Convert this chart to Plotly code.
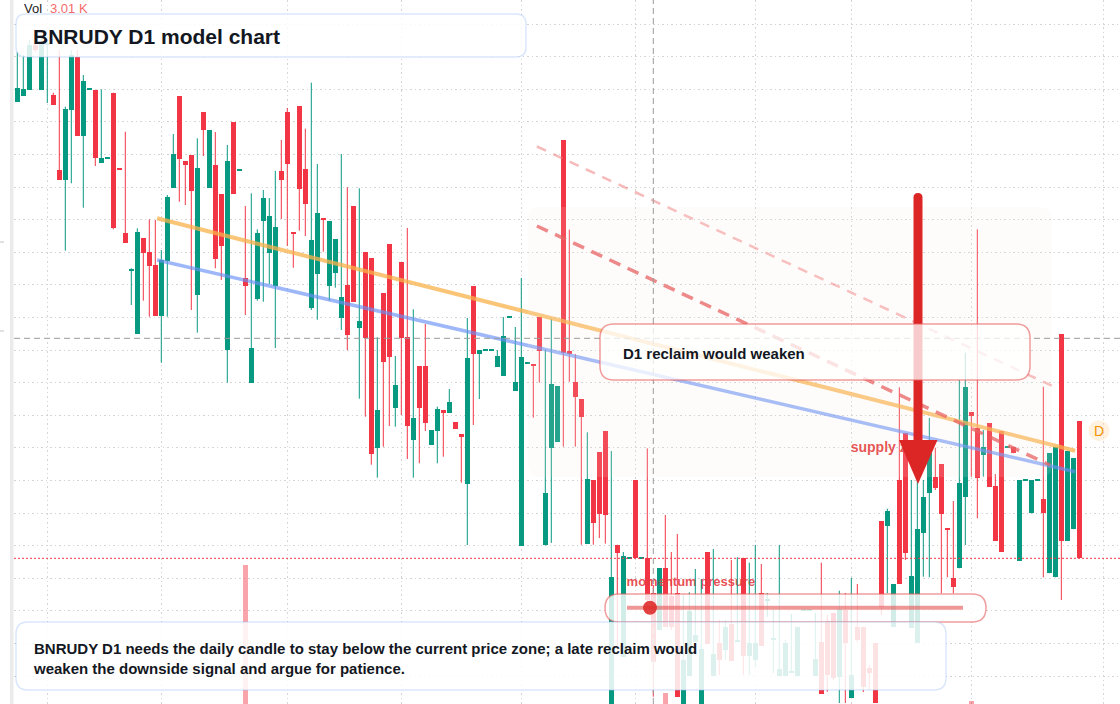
import plotly.graph_objects as go

W, H = 1120, 704

# ---------------- data (daily candles, price units) ----------------
opens = [109.83, 110.43, 111.0, 115.5, 111.0, 115.5, 110.5, 103.0, 102.0, 109.0,
         114.3, 106.4, 111.05, 111.0, 103.73, 104.15, 110.73, 103.12, 96.73, 92.95,
         86.6, 96.2, 94.8, 93.5, 88.4, 93.93, 101.23, 110.4, 103.9, 104.5,
         90.5, 108.8, 101.23, 103.5, 100.6, 85.0, 107.8, 102.98, 92.17, 81.73,
         90.13, 97.93, 94.73, 91.4, 102.93, 108.8, 96.7, 109.4, 103.1, 89.23,
         92.63, 98.07, 91.43, 92.73, 88.23, 91.5, 99.4, 87.23, 94.8, 94.2,
         75.23, 90.7, 95.6, 79.23, 93.8, 86.33, 76.0, 83.4, 83.4, 75.53,
         76.93, 79.0, 78.73, 77.8, 76.6, 71.63, 91.4, 84.6, 84.98, 84.98,
         83.3, 82.4, 88.28, 80.93, 65.4, 83.65, 83.57, 88.3, 65.46, 75.23,
         75.81, 105.98, 84.86, 81.82, 80.06, 65.64, 71.97, 74.79, 76.91, 49.0,
         65.53, 54.3, 64.18, 72.0, 64.15, 64.17, 60.7, 57.0, 63.17, 60.4,
         60.7, 49.0, 52.4, 55.83, 49.0, 64.8, 52.4, 55.73, 55.0, 57.6,
         55.8, 64.2, 54.4, 54.0, 60.7, 59.95, 56.0, 52.4, 52.4, 52.7,
         52.4, 58.98, 58.98, 52.4, 55.83, 57.93, 58.7, 52.3, 59.0, 50.2,
         57.33, 57.33, 53.2, 55.7, 67.87, 67.43, 57.33, 72.0, 76.73, 57.2,
         55.7, 66.73, 70.67, 72.33, 73.6, 67.07, 62.17, 63.17, 70.33, 78.77,
         77.17, 74.5, 77.67, 71.4, 76.9, 75.25, 75.33, 63.93, 71.98, 68.67,
         71.98, 70.07, 62.67, 62.27, 86.57, 65.93, 67.07, 77.9]
highs = [114.8, 114.5, 116.0, 115.8, 116.5, 116.0, 110.73, 115.0, 109.33, 115.0,
         115.0, 112.5, 111.1, 111.0, 111.07, 104.2, 110.73, 103.12, 106.83, 93.17,
         97.17, 96.2, 98.07, 98.0, 95.0, 100.5, 106.6, 110.4, 103.9, 104.5,
         106.17, 108.8, 107.0, 106.8, 100.6, 105.5, 107.8, 103.02, 99.4, 100.67,
         97.07, 101.0, 100.2, 102.93, 106.0, 109.2, 96.7, 109.4, 107.13, 111.73,
         103.6, 98.07, 97.9, 96.1, 104.6, 101.27, 99.4, 101.17, 94.8, 94.2,
         86.27, 90.7, 95.6, 84.4, 93.8, 97.2, 89.07, 83.4, 87.6, 77.0,
         79.33, 79.0, 81.1, 77.8, 76.6, 88.2, 91.4, 85.0, 85.02, 85.02,
         85.0, 88.3, 88.32, 87.3, 92.2, 83.69, 83.6, 88.3, 85.04, 88.15,
         81.41, 105.98, 97.04, 84.6, 80.06, 76.77, 71.97, 74.79, 76.91, 74.9,
         65.53, 64.8, 64.22, 72.0, 64.19, 75.16, 61.5, 63.2, 68.5, 64.8,
         66.6, 60.5, 60.77, 63.1, 62.07, 64.8, 65.1, 58.0, 58.0, 64.0,
         64.27, 64.2, 63.73, 65.5, 63.6, 60.7, 59.0, 65.5, 56.0, 58.6,
         57.33, 59.02, 59.02, 58.7, 63.73, 58.5, 58.7, 60.93, 60.7, 62.2,
         61.6, 57.33, 53.5, 55.7, 67.87, 69.13, 61.6, 81.27, 76.73, 72.0,
         72.0, 72.0, 78.2, 75.23, 73.6, 67.07, 69.9, 82.0, 84.73, 78.77,
         97.07, 77.0, 77.67, 72.6, 76.9, 75.29, 75.33, 72.0, 72.02, 72.0,
         72.02, 81.33, 74.67, 75.33, 86.57, 74.93, 74.2, 77.9]
lows = [109.8, 110.4, 111.0, 114.8, 111.0, 109.7, 109.5, 102.0, 94.93, 101.67,
        106.4, 99.23, 111.0, 103.4, 103.73, 104.12, 97.07, 103.08, 95.73, 89.5,
        86.6, 89.93, 88.33, 88.4, 83.73, 88.33, 101.23, 99.83, 99.5, 89.0,
        86.73, 104.4, 101.23, 93.17, 92.0, 81.73, 100.6, 102.98, 88.5, 81.73,
        89.93, 89.83, 91.57, 85.2, 98.1, 95.4, 93.23, 96.93, 96.4, 89.0,
        88.03, 94.83, 89.93, 91.23, 87.0, 85.0, 89.83, 80.13, 78.33, 73.53,
        72.23, 75.33, 77.4, 77.33, 78.5, 74.1, 72.23, 73.67, 76.9, 75.53,
        73.67, 74.33, 78.73, 77.13, 71.73, 65.5, 77.5, 80.1, 84.98, 84.98,
        83.3, 82.4, 88.28, 80.93, 65.4, 83.65, 78.23, 81.74, 65.46, 65.71,
        75.81, 75.34, 81.82, 75.34, 65.53, 65.64, 65.53, 66.19, 65.64, 49.0,
        55.0, 54.3, 64.18, 64.17, 64.15, 59.0, 50.33, 57.0, 57.3, 57.0,
        50.3, 49.0, 52.4, 55.83, 49.0, 55.6, 52.4, 52.5, 54.0, 53.93,
        55.8, 52.5, 52.5, 53.33, 55.4, 58.33, 52.7, 52.4, 52.4, 52.7,
        52.4, 58.98, 58.98, 52.4, 50.6, 50.83, 52.0, 49.7, 49.7, 50.2,
        55.83, 50.8, 51.0, 49.7, 58.5, 60.67, 57.33, 61.6, 64.0, 57.2,
        55.7, 62.33, 62.27, 71.0, 60.67, 62.27, 60.67, 63.17, 65.5, 72.33,
        68.17, 72.33, 71.33, 65.9, 64.83, 75.25, 74.67, 63.93, 71.98, 68.67,
        71.98, 62.27, 62.67, 62.27, 60.0, 65.93, 67.07, 64.17]
closes = [111.17, 111.07, 115.5, 115.0, 115.8, 115.7, 109.5, 102.0, 109.1, 114.5,
          106.4, 111.9, 111.08, 104.17, 104.17, 104.18, 97.17, 103.08, 95.73, 93.0,
          96.8, 94.73, 93.43, 88.4, 94.0, 100.33, 104.6, 104.13, 103.53, 100.93,
          103.2, 107.0, 107.0, 94.13, 95.4, 103.9, 100.6, 103.02, 91.4, 85.2,
          96.7, 100.2, 98.4, 97.33, 102.0, 103.6, 96.6, 101.13, 99.63, 96.0,
          98.7, 98.0, 97.9, 96.1, 90.3, 86.53, 89.83, 87.9, 86.23, 74.63,
          79.0, 83.83, 84.33, 81.5, 86.17, 77.43, 78.17, 79.23, 77.73, 77.0,
          79.1, 78.73, 79.8, 77.13, 76.33, 84.2, 84.6, 85.0, 85.02, 85.02,
          84.4, 86.4, 88.32, 81.8, 84.3, 83.69, 83.45, 84.9, 70.7, 81.6,
          81.41, 84.75, 84.64, 80.35, 78.34, 72.12, 67.72, 68.64, 68.46, 62.34,
          64.72, 64.43, 64.22, 64.17, 64.19, 60.0, 53.83, 63.17, 57.3, 57.3,
          50.3, 54.0, 58.93, 56.5, 55.1, 55.6, 54.6, 54.0, 57.33, 53.93,
          55.9, 54.4, 55.73, 55.73, 55.4, 60.0, 56.1, 53.1, 55.73, 52.8,
          57.33, 59.02, 59.02, 54.1, 50.6, 52.5, 52.2, 59.1, 55.67, 52.5,
          56.0, 51.33, 52.7, 49.7, 59.33, 68.9, 61.6, 61.6, 64.73, 62.4,
          67.1, 70.33, 74.7, 71.23, 68.6, 67.0, 61.33, 71.67, 81.33, 78.43,
          72.23, 75.27, 71.33, 65.9, 64.83, 75.29, 74.67, 72.0, 72.02, 72.0,
          72.02, 68.67, 74.67, 75.33, 65.93, 74.93, 74.2, 64.17]

# volume (K) on the few sessions where it is visible
vol_spikes = {38: 9.9, 108: 0.78, 159: 0.18}
vol_label = "3.01 K"

# month boundaries (bar index) used for vertical grid
month_ticks = [5, 24, 45, 64, 84, 103, 123, 139, 159, 181]

# drawn trendlines: (bar index pair, price pair)
orange_tl = ([23.3, 176.3], [98.17, 74.93])
blue_tl = ([23.3, 176.3], [94.0, 72.83])
red_tl_main = ([86.6, 172.1], [97.4, 73.5])
red_tl_upper = ([86.6, 172.4], [105.35, 81.43])
crosshair_idx = 106
crosshair_price = 86.17
last_price = 64.17

title = "BNRUDY D1 model chart"
note = ("BNRUDY D1 needs the daily candle to stay below the current price zone; a late reclaim would"
        "<br>weaken the downside signal and argue for patience.")
callout = "D1 reclaim would weaken"

UP = "#089981"
DN = "#f23645"
FONT = "Liberation Sans, Arial, sans-serif"
INK = "#131722"

n = len(opens)
idx = list(range(n))


def px(x):
    return x / W


def py(y):
    return 1 - y / H


def rrect(x0, y0, x1, y1, r):
    pts = [("M", [(x0 + r, y0)]), ("L", [(x1 - r, y0)]), ("Q", [(x1, y0), (x1, y0 + r)]),
           ("L", [(x1, y1 - r)]), ("Q", [(x1, y1), (x1 - r, y1)]), ("L", [(x0 + r, y1)]),
           ("Q", [(x0, y1), (x0, y1 - r)]), ("L", [(x0, y0 + r)]), ("Q", [(x0, y0), (x0 + r, y0)])]
    s = ""
    for cmd, ps in pts:
        s += cmd + " " + " ".join(f"{px(a):.5f},{py(b):.5f}" for a, b in ps) + " "
    return s + "Z"


fig = go.Figure()

# volume
vx = list(vol_spikes.keys())
vy = list(vol_spikes.values())
vc = ["rgba(242,54,69,0.45)" if closes[k] < opens[k] else "rgba(8,153,129,0.45)" for k in vx]
fig.add_trace(go.Bar(x=vx, y=vy, width=0.78, marker=dict(color=vc, line_width=0),
                     yaxis="y2", hoverinfo="skip"))

# text under candles
fig.add_trace(go.Scatter(x=[101.55], y=[61.73], mode="text", text=["<b>momentum pressure</b>"],
                         textposition="middle right",
                         textfont=dict(family=FONT, size=13, color="rgba(228,58,62,0.9)"),
                         hoverinfo="skip"))
fig.add_trace(go.Scatter(x=[138.9], y=[75.2], mode="text", text=["<b>supply zone</b>"],
                         textposition="middle right",
                         textfont=dict(family=FONT, size=14, color="rgba(226,52,52,0.95)"),
                         hoverinfo="skip"))

# wicks
for col, up in ((UP, True), (DN, False)):
    xs, ys = [], []
    for k in idx:
        if (closes[k] >= opens[k]) == up:
            hi = max(highs[k], opens[k], closes[k])
            lo = min(lows[k], opens[k], closes[k])
            xs += [k, k, None]
            ys += [lo, hi, None]
    fig.add_trace(go.Scatter(x=xs, y=ys, mode="lines", line=dict(color=col, width=1),
                             hoverinfo="skip"))

# bodies
for col, up in ((UP, True), (DN, False)):
    bx, bb, bh = [], [], []
    for k in idx:
        if (closes[k] >= opens[k]) == up:
            bx.append(k)
            bb.append(min(opens[k], closes[k]))
            bh.append(max(abs(closes[k] - opens[k]), 0.12))
    fig.add_trace(go.Bar(x=bx, y=bh, base=bb, width=0.78,
                         marker=dict(color=col, line_width=0), hoverinfo="skip"))

# trendlines
fig.add_trace(go.Scatter(x=orange_tl[0], y=orange_tl[1], mode="lines",
                         line=dict(color="rgba(250,178,75,0.75)", width=4), hoverinfo="skip"))
fig.add_trace(go.Scatter(x=blue_tl[0], y=blue_tl[1], mode="lines",
                         line=dict(color="rgba(105,145,245,0.65)", width=3.5), hoverinfo="skip"))
fig.add_trace(go.Scatter(x=red_tl_upper[0], y=red_tl_upper[1], mode="lines",
                         line=dict(color="rgba(240,130,130,0.55)", width=2.5, dash="10px,8px"),
                         hoverinfo="skip"))
fig.add_trace(go.Scatter(x=red_tl_main[0], y=red_tl_main[1], mode="lines",
                         line=dict(color="rgba(230,80,80,0.75)", width=3.5, dash="12px,8px"),
                         hoverinfo="skip"))

shapes = []
# faint forecast zone
shapes.append(dict(type="path", xref="paper", yref="paper", path=rrect(528, 207, 1052, 477, 12),
                   fillcolor="rgba(246,232,222,0.13)", line=dict(width=0), layer="above"))
# crosshair
shapes.append(dict(type="line", xref="x", yref="paper", x0=crosshair_idx, x1=crosshair_idx, y0=0, y1=1,
                   line=dict(color="#9a9a9a", width=1, dash="6px,4px"), layer="above"))
shapes.append(dict(type="line", xref="paper", yref="y", x0=px(14), x1=1, y0=crosshair_price,
                   y1=crosshair_price, line=dict(color="#9a9a9a", width=1, dash="6px,4px"), layer="above"))
# last price
shapes.append(dict(type="line", xref="paper", yref="y", x0=px(14), x1=1, y0=last_price, y1=last_price,
                   line=dict(color=DN, width=1, dash="2px,2px"), layer="above"))
# big arrow
sx0, sx1, stop, sbot = 913.5, 922.5, 193, 443
shaft = (f"M {px(sx0):.5f},{py(sbot):.5f} L {px(sx0):.5f},{py(stop + 4.5):.5f} "
         f"Q {px(sx0):.5f},{py(stop):.5f} {px(918):.5f},{py(stop):.5f} "
         f"Q {px(sx1):.5f},{py(stop):.5f} {px(sx1):.5f},{py(stop + 4.5):.5f} "
         f"L {px(sx1):.5f},{py(sbot):.5f} Z")
shapes.append(dict(type="path", xref="paper", yref="paper", path=shaft,
                   fillcolor="#dc2626", line=dict(width=0), layer="above"))
head = (f"M {px(899):.5f},{py(440):.5f} L {px(937.5):.5f},{py(440):.5f} "
        f"L {px(918):.5f},{py(484):.5f} Z")
shapes.append(dict(type="path", xref="paper", yref="paper", path=head,
                   fillcolor="#dc2626", line=dict(width=0), layer="above"))
# callout box
shapes.append(dict(type="path", xref="paper", yref="paper", path=rrect(600, 324, 1030, 380, 14),
                   fillcolor="rgba(255,255,255,0.76)", line=dict(color="rgba(232,92,92,0.6)", width=1.5),
                   layer="above"))
# momentum pill
shapes.append(dict(type="path", xref="paper", yref="paper", path=rrect(605, 594, 986, 622, 14),
                   fillcolor="rgba(255,255,255,0.82)", line=dict(color="rgba(232,92,92,0.6)", width=1.5),
                   layer="above"))
shapes.append(dict(type="line", xref="paper", yref="paper", x0=px(627), x1=px(963), y0=py(607.7),
                   y1=py(607.7), line=dict(color="rgba(228,80,80,0.6)", width=4), layer="above"))
shapes.append(dict(type="circle", xref="paper", yref="paper", x0=px(643), x1=px(657), y0=py(614.7),
                   y1=py(600.7), fillcolor="rgba(222,44,44,0.9)", line=dict(width=0), layer="above"))
# title box
shapes.append(dict(type="path", xref="paper", yref="paper", path=rrect(16, 14, 526, 57, 10),
                   fillcolor="rgba(255,255,255,0.85)", line=dict(color="rgba(150,185,240,0.35)", width=1.5),
                   layer="above"))
# note box
shapes.append(dict(type="path", xref="paper", yref="paper", path=rrect(16, 622, 946, 690, 12),
                   fillcolor="rgba(255,255,255,0.86)", line=dict(color="rgba(150,185,240,0.35)", width=1.5),
                   layer="above"))
# right marker circle
shapes.append(dict(type="circle", xref="paper", yref="paper", x0=px(1088.5), x1=px(1109.5), y0=py(441.2),
                   y1=py(420.2), fillcolor="rgba(254,222,180,0.4)", line=dict(width=0), layer="above"))
# left strip and ticks
shapes.append(dict(type="rect", xref="paper", yref="paper", x0=px(10), x1=px(13.5), y0=0, y1=1,
                   fillcolor="#ebebeb", line=dict(width=0), layer="above"))
for yy in (242, 331):
    shapes.append(dict(type="line", xref="paper", yref="paper", x0=0, x1=px(4), y0=py(yy), y1=py(yy),
                       line=dict(color="#c4c4c4", width=1), layer="above"))

annotations = [
    dict(xref="paper", yref="paper", x=px(30.5), y=py(36), xanchor="left", yanchor="middle",
         text=f"<b>{title}</b>", showarrow=False, font=dict(family=FONT, size=21, color=INK)),
    dict(xref="paper", yref="paper", x=px(620.5), y=py(353), xanchor="left", yanchor="middle",
         text=f"<b>{callout}</b>", showarrow=False, font=dict(family=FONT, size=15, color=INK)),
    dict(xref="paper", yref="paper", x=px(31), y=py(658.3), xanchor="left", yanchor="middle",
         text=f"<b>{note}</b>", showarrow=False, align="left",
         font=dict(family=FONT, size=15, color=INK)),
    dict(xref="paper", yref="paper", x=px(22), y=py(8.5), xanchor="left", yanchor="middle",
         text="Vol", showarrow=False, font=dict(family=FONT, size=13, color="#222222")),
    dict(xref="paper", yref="paper", x=px(48), y=py(8.5), xanchor="left", yanchor="middle",
         text=vol_label, showarrow=False, font=dict(family=FONT, size=13, color="#f56a6a")),
    dict(xref="paper", yref="paper", x=px(1099), y=py(430.7), xanchor="center", yanchor="middle",
         text="D", showarrow=False, font=dict(family=FONT, size=14, color="#f39200")),
]

fig.update_layout(
    width=W, height=H, margin=dict(l=0, r=0, t=0, b=0),
    paper_bgcolor="white", plot_bgcolor="white",
    showlegend=False, barmode="overlay", bargap=0,
    shapes=shapes, annotations=annotations,
    xaxis=dict(domain=[14 / W, 1], range=[-0.55, 183.78], tickmode="array", tickvals=month_ticks,
               showticklabels=False, ticks="", showgrid=True, gridcolor="#d4d4d4", griddash="1.5px,3px",
               gridwidth=1, zeroline=False, showline=False, fixedrange=True),
    yaxis=dict(range=[49.6, 120], tick0=111.07, dtick=3.26, showticklabels=False, ticks="",
               showgrid=True, gridcolor="#d4d4d4", griddash="1.5px,3px", gridwidth=1,
               zeroline=False, showline=False, fixedrange=True),
    yaxis2=dict(range=[0, 50], overlaying="y", visible=False, fixedrange=True),
)

fig.write_html("out.html")
